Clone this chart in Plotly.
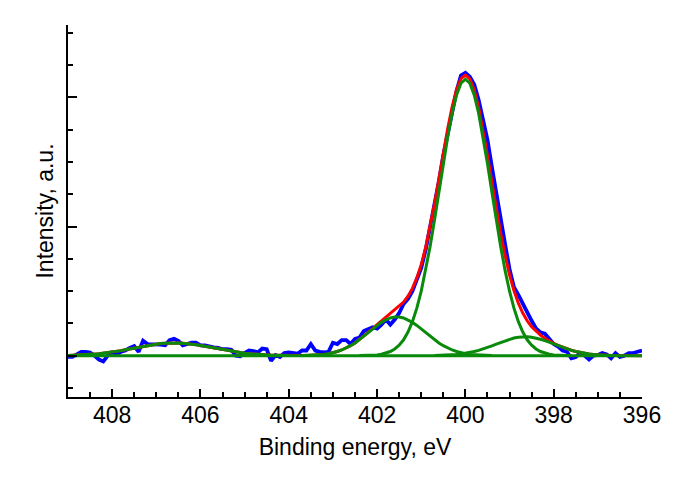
import plotly.graph_objects as go

# ---------------- data ----------------
E_START = 409.0
E_STEP = 0.1
N_POINTS = 131
energy = [round(E_START - E_STEP * i, 1) for i in range(N_POINTS)]  # 409.0 ... 396.0 eV

# measured spectrum (blue), arbitrary units, background subtracted
measured = [
    -0.01, -0.01, 0.01, 0.03, 0.03, 0.025, 0.0, -0.03, -0.045, 0.0,
    0.025, 0.01, 0.03, 0.04, 0.06, 0.075, 0.03, 0.115, 0.09, 0.09,
    0.085, 0.085, 0.08, 0.12, 0.13, 0.115, 0.08, 0.09, 0.1, 0.1,
    0.08, 0.08, 0.07, 0.065, 0.06, 0.05, 0.05, 0.045, 0.0, -0.005,
    0.02, 0.04, 0.035, 0.025, 0.055, 0.05, -0.04, 0.005, -0.01, 0.02,
    0.025, 0.02, 0.015, 0.04, 0.04, 0.09, 0.04, 0.03, 0.025, 0.03,
    0.1, 0.09, 0.12, 0.12, 0.09, 0.13, 0.14, 0.19, 0.205, 0.22,
    0.21, 0.24, 0.28, 0.24, 0.28, 0.33, 0.40, 0.44, 0.50, 0.60,
    0.68, 0.82, 0.99, 1.18, 1.35, 1.55, 1.72, 1.88, 2.05, 2.17,
    2.19, 2.16, 2.10, 1.98, 1.84, 1.67, 1.46, 1.25, 1.05, 0.86,
    0.67, 0.53, 0.47, 0.40, 0.33, 0.27, 0.21, 0.18, 0.17, 0.13,
    0.09, 0.07, 0.04, 0.03, -0.02, -0.01, 0.02, 0.0, -0.03, 0.0,
    0.005, 0.02, 0.01, -0.02, 0.02, -0.01, 0.0, 0.02, 0.02, 0.03,
    0.04,
]

# fitted components (green), each given from its first energy on the grid
comp_main_start = 402.4   # ~400.0 eV
comp_main = [
    0.001, 0.001, 0.002, 0.003, 0.006, 0.011, 0.019, 0.032, 0.052, 0.081,
    0.123, 0.183, 0.263, 0.368, 0.499, 0.658, 0.843, 1.049, 1.267, 1.487,
    1.695, 1.877, 2.019, 2.109, 2.14, 2.109, 2.019, 1.877, 1.695, 1.487,
    1.267, 1.049, 0.843, 0.658, 0.499, 0.368, 0.263, 0.183, 0.123, 0.081,
    0.052, 0.032, 0.019, 0.011, 0.006, 0.003, 0.002, 0.001, 0.001,
]
comp_high_start = 403.7   # ~401.55 eV
comp_high = [
    0.001, 0.002, 0.003, 0.004, 0.007, 0.010, 0.015, 0.022, 0.032, 0.044,
    0.059, 0.077, 0.098, 0.123, 0.150, 0.178, 0.206, 0.234, 0.258, 0.278,
    0.292, 0.299, 0.299, 0.292, 0.278, 0.258, 0.234, 0.206, 0.178, 0.150,
    0.123, 0.098, 0.077, 0.059, 0.044, 0.032, 0.022, 0.015, 0.010, 0.007,
    0.004, 0.003, 0.002, 0.001,
]
comp_low_start = 400.7    # ~398.65 eV
comp_low = [
    0.001, 0.002, 0.003, 0.004, 0.006, 0.009, 0.013, 0.018, 0.024, 0.032,
    0.041, 0.051, 0.063, 0.076, 0.090, 0.103, 0.116, 0.127, 0.137, 0.143,
    0.147, 0.147, 0.143, 0.137, 0.127, 0.116, 0.103, 0.090, 0.076, 0.063,
    0.051, 0.041, 0.032, 0.024, 0.018, 0.013, 0.009, 0.006, 0.004, 0.003,
    0.002, 0.001,
]
comp_sat_start = 409.0    # ~406.6 eV broad satellite
comp_sat = [
    0.002, 0.003, 0.004, 0.006, 0.008, 0.010, 0.012, 0.015, 0.019, 0.023,
    0.028, 0.034, 0.039, 0.046, 0.052, 0.059, 0.066, 0.073, 0.079, 0.085,
    0.090, 0.094, 0.097, 0.099, 0.100, 0.099, 0.097, 0.094, 0.090, 0.085,
    0.079, 0.073, 0.066, 0.059, 0.052, 0.046, 0.039, 0.034, 0.028, 0.023,
    0.019, 0.015, 0.012, 0.010, 0.008, 0.006, 0.004, 0.003, 0.002, 0.002,
    0.001,
]
baseline_level = 0.0

x_tick_values = [408, 406, 404, 402, 400, 398, 396]
x_tick_labels = ["408", "406", "404", "402", "400", "398", "396"]

# ---------------- assemble ----------------
components = [
    (comp_sat_start, comp_sat),
    (comp_high_start, comp_high),
    (comp_main_start, comp_main),
    (comp_low_start, comp_low),
]

def start_index(e0):
    return int(round((E_START - e0) / E_STEP))

envelope = [baseline_level] * N_POINTS
for e0, vals in components:
    i0 = start_index(e0)
    for k, v in enumerate(vals):
        envelope[i0 + k] += v

BLUE = "#0000FF"
RED = "#FF0000"
GREEN = "#0A8A0A"
FONT = "Liberation Sans, Arial, sans-serif"
FS = 23

fig = go.Figure()
fig.add_trace(go.Scatter(x=energy, y=measured, mode="lines",
                         line=dict(color=BLUE, width=3.8), hoverinfo="skip"))
fig.add_trace(go.Scatter(x=energy, y=envelope, mode="lines",
                         line=dict(color=RED, width=3), hoverinfo="skip"))
for e0, vals in components:
    i0 = start_index(e0)
    fig.add_trace(go.Scatter(x=energy[i0:i0 + len(vals)],
                             y=[baseline_level + v for v in vals], mode="lines",
                             line=dict(color=GREEN, width=3), hoverinfo="skip"))
fig.add_trace(go.Scatter(x=energy, y=[baseline_level] * N_POINTS, mode="lines",
                         line=dict(color=GREEN, width=3), hoverinfo="skip"))

# page body has an 8 px margin, so the figure is sized to fit inside the window
fig.update_layout(
    width=680, height=464,
    margin=dict(l=60, r=46, t=17, b=75, autoexpand=False),
    paper_bgcolor="white", plot_bgcolor="white",
    showlegend=False,
    font=dict(family=FONT, size=FS, color="black"),
    xaxis=dict(
        range=[409, 396], showgrid=False, zeroline=False, automargin=False,
        showline=True, linecolor="black", linewidth=2, mirror=False,
        ticks="inside", ticklen=8, tickwidth=2, tickcolor="black",
        tickvals=x_tick_values, ticktext=x_tick_labels,
        ticklabelstandoff=-4,
        tickfont=dict(family=FONT, size=FS, color="black"),
        minor=dict(dtick=0.5, tick0=396, ticks="inside", ticklen=5,
                   tickwidth=2, tickcolor="black"),
        title=dict(text="Binding energy, eV",
                   font=dict(family=FONT, size=FS, color="black"), standoff=12),
    ),
    yaxis=dict(
        range=[-0.32, 2.56], showgrid=False, zeroline=False, automargin=False,
        showline=True, linecolor="black", linewidth=2, mirror=False,
        ticks="inside", ticklen=9, tickwidth=2, tickcolor="black",
        tick0=0, dtick=1, showticklabels=False,
        minor=dict(dtick=0.25, tick0=0, ticks="inside", ticklen=5,
                   tickwidth=2, tickcolor="black"),
        title=dict(text="Intensity, a.u.",
                   font=dict(family=FONT, size=FS, color="black"), standoff=6),
    ),
)

fig.write_html("out.html")
